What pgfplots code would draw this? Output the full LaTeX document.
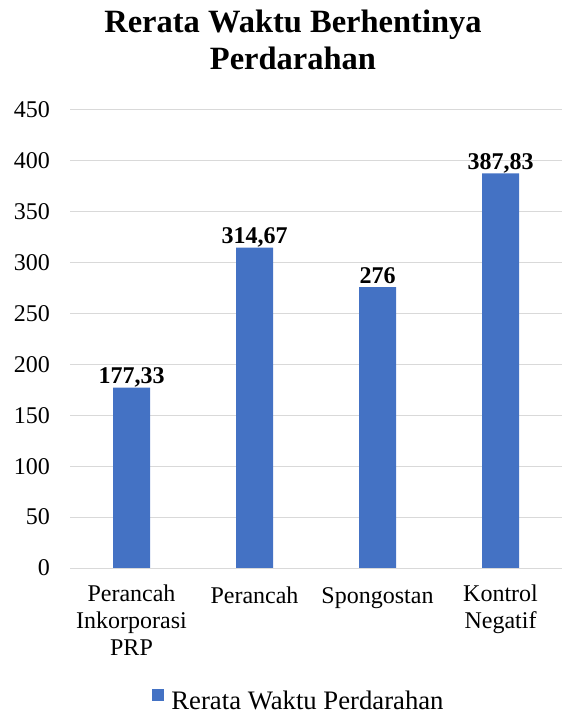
\documentclass[border=0pt]{standalone}
\usepackage{pgfplots}
\pgfplotsset{compat=1.18}
\usepackage{pgfplotstable}
\usepackage{fontspec}
\setmainfont{Liberation Serif}
\definecolor{barblue}{HTML}{4472C4}
\definecolor{gridgray}{HTML}{D9D9D9}
\pgfplotstableread{
x y lab
0 177.33 177,33
1 314.67 314,67
2 276 276
3 387.83 387,83
}\datatable
\begin{document}
\begin{tikzpicture}
\path[use as bounding box] (0bp,0bp) rectangle (569bp,715bp);
\node[anchor=base, font=\fontsize{32.5bp}{38bp}\selectfont\bfseries, inner sep=0] at (293bp,682bp) {Rerata Waktu Berhentinya};
\node[anchor=base, font=\fontsize{32.5bp}{38bp}\selectfont\bfseries, inner sep=0] at (293bp,645bp) {Perdarahan};
\begin{axis}[
  at={(70bp,147bp)}, anchor=south west,
  scale only axis, width=492bp, height=458bp,
  xmin=-0.5, xmax=3.5, ymin=0, ymax=450,
  ytick={0,50,...,450},
  xtick={0,1,2,3},
  xticklabels={{Perancah\\Inkorporasi\\PRP},Perancah,Spongostan,{Kontrol\\Negatif}},
  axis line style={draw=none},
  major tick length=0,
  ymajorgrids, grid style={draw=gridgray, line width=1bp},
  /pgf/number format/assume math mode=true,
  ticklabel style={font=\fontsize{24bp}{27bp}\selectfont, inner sep=0},
  yticklabel style={anchor=east, xshift=-20bp},
  xticklabel style={align=center, anchor=north, yshift=-16.3bp, execute at begin node=\strut},
  ybar, bar width=37bp,
  nodes near coords,
  point meta=explicit symbolic,
  nodes near coords style={font=\fontsize{24bp}{27bp}\selectfont\bfseries, anchor=base, inner sep=0, yshift=4bp},
  legend style={at={(0.4634,-0.3129)}, anchor=south, draw=none, inner sep=0, outer sep=0, font=\fontsize{26.7bp}{30bp}\selectfont, nodes={inner sep=0, outer sep=0}},
  legend image code/.code={\fill[barblue] (0bp,0bp) rectangle (12bp,12bp); \path (19bp,0bp);},
]
\addplot[fill=barblue, draw=none] table[x=x, y=y, meta=lab] {\datatable};
\addlegendentry{Rerata Waktu Perdarahan}
\end{axis}
\end{tikzpicture}
\end{document}
